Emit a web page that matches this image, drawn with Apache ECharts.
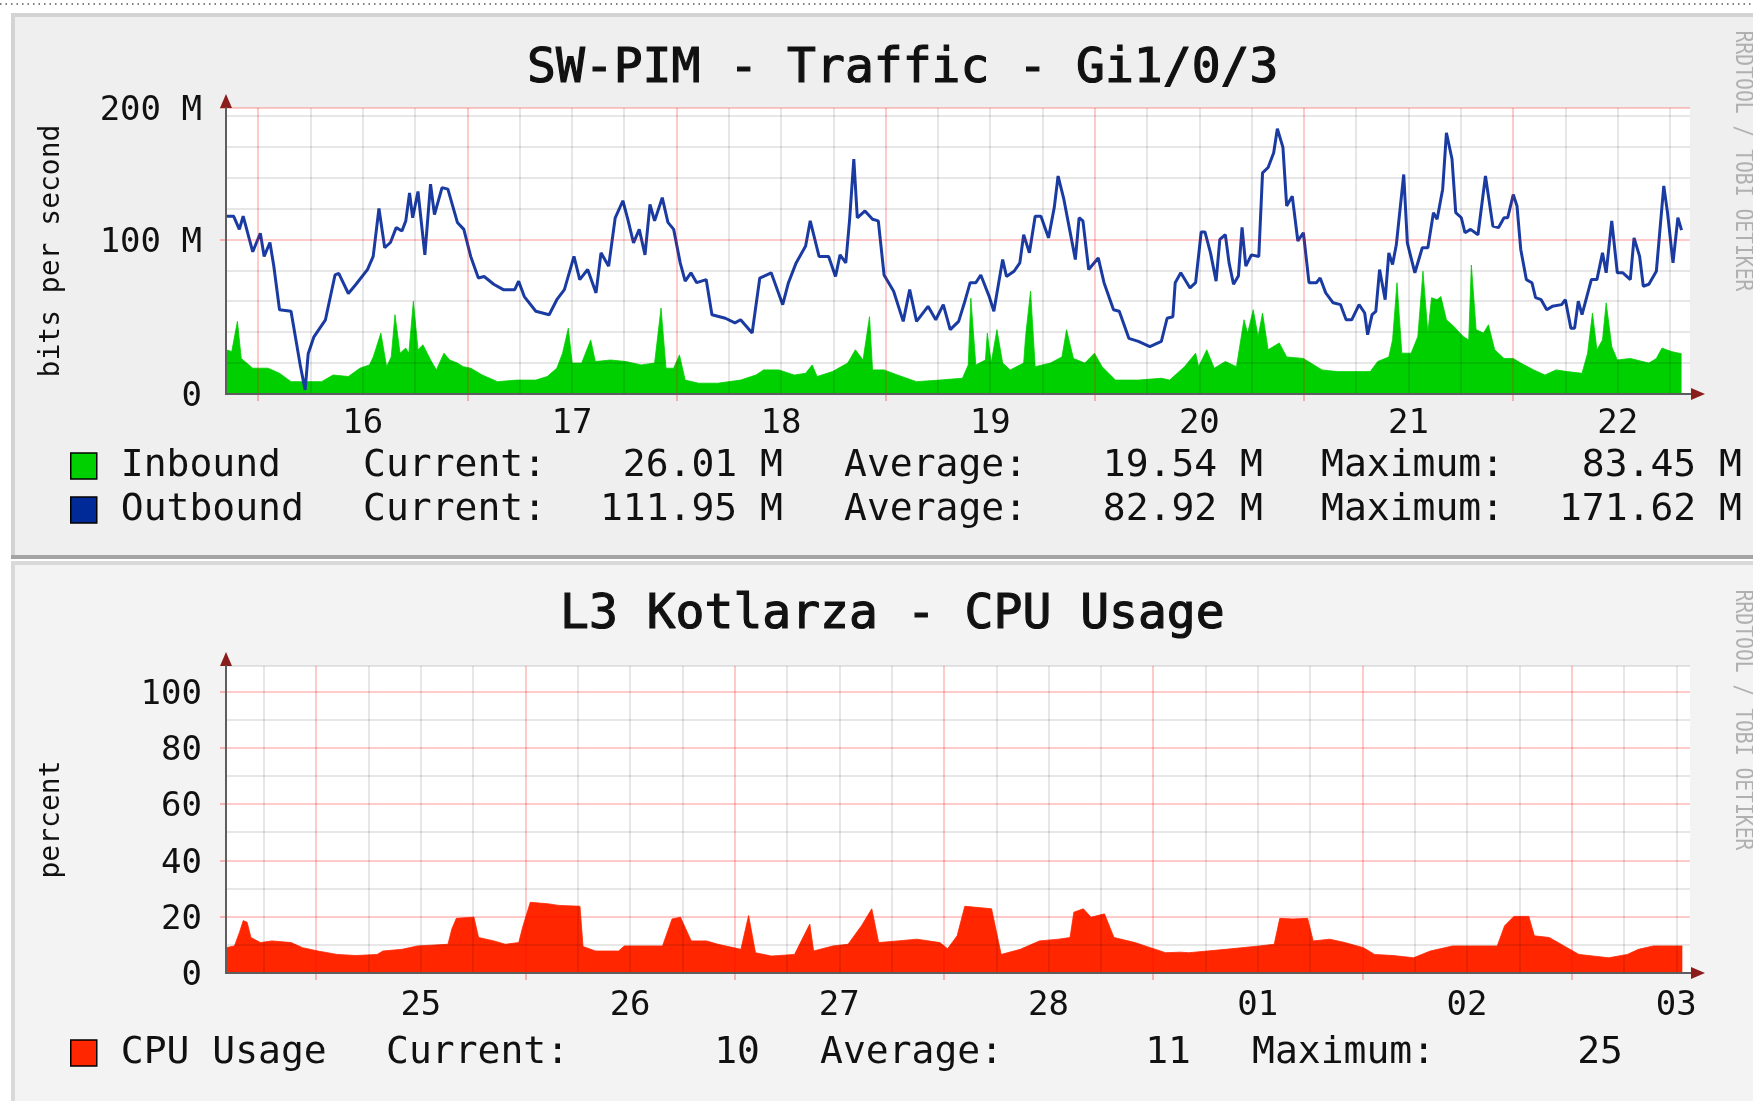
<!DOCTYPE html>
<html><head><meta charset="utf-8">
<script src="https://cdn.jsdelivr.net/npm/echarts@6/dist/echarts.min.js"></script>
<style>html,body{margin:0;padding:0;background:#fff;overflow:hidden}#c{width:1753px;height:1101px}</style>
</head><body><div id="c"></div><script>
// ---------- texts ----------
const trafficTitle = 'SW-PIM - Traffic - Gi1/0/3';
const cpuTitle = 'L3 Kotlarza - CPU Usage';
const watermark = 'RRDTOOL / TOBI OETIKER';
const statLabels = ['Current:', 'Average:', 'Maximum:'];
const inboundStats = ['26.01 M', '19.54 M', '83.45 M'];
const outboundStats = ['111.95 M', '82.92 M', '171.62 M'];
const cpuStats = ['10', '11', '25'];

// ---------- x axis (hours from first midnight shown) ----------
const trafficDayLabels = ['16', '17', '18', '19', '20', '21', '22'];
const trafficDayCenters = [12, 36, 60, 84, 108, 132, 156];
const trafficMidnights = [0, 24, 48, 72, 96, 120, 144];
const trafficXRange = [-3.69, 164.3];
const cpuDayLabels = ['25', '26', '27', '28', '01', '02', '03'];
const cpuDayCenters = [12, 36, 60, 84, 108, 132, 156];
const cpuMidnights = [0, 24, 48, 72, 96, 120, 144];
const cpuXRange = [-10.35, 157.57];

// ---------- y axis ----------
const trafficYMax = 185;
const trafficYLabelValues = [0, 100, 185];
const trafficYLabels = ['0', '100 M', '200 M'];
const trafficYMinor = [20, 40, 60, 80, 120, 140, 160, 180];
const trafficYMajor = [100, 185];
const cpuYMax = 109;
const cpuYLabelValues = [0, 20, 40, 60, 80, 100];
const cpuYLabels = ['0', '20', '40', '60', '80', '100'];
const cpuYMinor = [10, 30, 50, 70, 90, 109];
const cpuYMajor = [20, 40, 60, 80, 100];

// ---------- series: [hour, value] ----------
const outboundPoints = [[-3.69,115],[-2.82,115],[-2.16,106.5],[-1.72,115],[-0.62,92],[0.25,104],[0.69,89],[1.35,98],[1.79,83],[2.45,54.5],[3.77,53.5],[4.86,17.7],[5.39,2.6],[5.74,26],[6.4,37],[7.72,48],[8.82,77],[9.25,78],[10.35,65],[11.23,71],[12.54,80.5],[13.2,89],[13.86,120],[14.52,94.6],[15.18,98],[15.84,107.6],[16.5,105.4],[16.94,112],[17.37,130],[17.73,114],[18.34,131],[19.13,90],[19.78,135.7],[20.23,116],[21.1,133.5],[21.77,132.5],[22.86,111],[23.6,106.5],[24.39,89],[25.27,75],[25.93,76],[27.03,71],[28.13,67.5],[29.44,67.5],[29.89,73],[30.54,63],[31.86,53.5],[33.39,51.3],[34.27,61],[35.14,67.5],[36.24,89],
[36.9,74],[37.81,80.5],[38.77,65.4],[39.34,91.3],[40.22,82.7],[40.97,114],[41.85,125],[42.42,113],[43.07,97.8],[43.73,106.5],[44.39,90],[44.96,122.7],[45.49,112],[46.37,127],[47.02,111],[47.68,106.5],[48.43,84.8],[49.0,73],[49.66,78.4],[50.32,72],[51.41,74],[52.07,51.3],[53.61,49],[54.71,46],[55.36,48],[56.68,39.4],[57.56,75],[58.87,78.4],[60.19,57.8],[60.85,72],[61.73,84.8],[62.82,95.7],[63.35,112],[64.36,89],[65.46,89],[66.25,76],[66.77,90],[67.43,84.8],[67.87,113],[68.35,152],[68.75,114],[69.63,118.4],[70.5,113],[71.16,112],[71.82,77],[72.92,66.5],[74.02,47],[74.76,67.5],[75.55,47],[76.87,56.7],[77.75,48],[78.62,57.8],[79.41,41.6],[80.38,47],[81.04,59],[81.7,72],[82.35,72],[82.92,77],[83.89,63],[84.42,53.5],[85.43,87],[85.87,76],[86.74,79.4],[87.4,84.8],[87.84,103],[88.5,91.3],[89.16,115],[89.82,115],[90.69,101],[91.35,120.6],[91.79,141],[92.45,126],[93.11,106.5],[93.77,87],[94.2,114],[94.64,112],[95.3,80.5],[96.4,88],[97.06,72],[98.15,54.5],[98.81,53.5],[99.91,36],[101.0,34],[102.32,30.7],[103.64,34],[104.3,49],
[104.96,50],[105.23,72],[105.87,78.4],[106.93,68.6],[107.57,72],[108.21,104.8],[108.64,104.8],[109.28,91.3],[109.92,73],[110.35,100],[110.98,103],[111.41,84.8],[111.92,71],[112.48,76.4],[112.9,107.8],[113.33,82.7],[113.97,90],[114.82,89],[115.25,143],[115.89,146.5],[116.53,156],[116.95,171.6],[117.59,159.5],[118.02,121.6],[118.66,128],[119.3,99],[119.94,104.3],[120.58,72],[121.43,72],[121.86,75],[122.5,65.4],[123.35,59],[124.2,57.8],[124.84,48],[125.48,48],[126.33,57.8],[126.97,52.4],[127.31,38.3],[127.82,51.3],[128.25,53.5],[128.68,80.5],[129.32,61],[129.74,91.3],[130.17,83.8],[130.6,96.5],[131.45,142],[131.87,97.6],[132.73,78.4],[133.58,94.6],[134.22,94.6],[134.86,117.3],[135.28,113],[135.92,132.5],[136.35,169],[136.99,152],[137.42,117.3],[138.06,114],[138.48,104.3],[139.12,106.5],[139.97,103],[140.83,141],[141.68,108.6],[142.32,107.6],[142.96,114],[143.38,114],[144.02,129],[144.45,121.6],[144.88,93.5],[145.52,74],[146.16,72],[146.58,62.3],[147.22,61],[147.86,54.5],[148.5,56.7],[149.57,57.8],[150.0,61],[150.63,42.6],[151.06,42.6],[151.48,60],[151.91,51.3],[152.98,74],[153.62,74],[154.26,91.3],[154.68,78.4],[155.32,112],[155.96,78.4],[156.6,78.4],[157.45,74],[157.88,101],[158.52,89],[158.94,69.7],[159.58,71],[160.44,79.4],[161.29,134.6],[161.72,117.3],[162.35,84.8],[162.91,114],[163.33,106]];

const inboundPoints = [[-3.69,28.6],[-3.03,27.5],[-2.38,47],[-1.94,23],[-0.62,16.7],[1.14,16.7],[2.45,13.4],[3.77,8],[5.52,8],[7.28,8],[8.6,12.3],[10.35,11.3],[11.67,16.7],[12.77,18.8],[13.21,24],[14.08,39.4],[14.74,17.7],[15.27,24],[15.7,51.3],[16.28,26.4],[16.93,29.7],[17.29,26.4],[17.81,60],[18.34,28.6],[18.91,31.8],[19.79,22],[20.45,15.6],[21.32,26.4],[21.98,22],[22.86,20],[23.52,17.7],[24.4,16.7],[25.71,12.3],[27.47,8],[29.66,9],[31.86,9],[33.17,11.3],[34.27,16.7],[34.93,26.4],[35.59,42.6],[36.03,20],[37.12,20],
[38.16,35],[38.69,21],[40.44,22],[42.2,21],[43.95,18.8],[45.49,20],[46.23,55.6],[46.8,16.7],[47.68,16.7],[48.34,25.3],[49.0,9],[50.54,7],[52.73,7],[55.36,9],[57.12,12.3],[58.0,15.6],[59.75,15.6],[61.51,12.3],[62.82,13.4],[63.57,18.8],[64.14,11.3],[65.9,14.5],[67.65,20],[68.53,28.6],[69.41,22],[70.15,50],[70.5,15.6],[71.82,15.6],[73.36,12.3],[75.55,8],[78.19,9],[80.82,10.2],[81.48,18.8],[81.78,62],[82.35,18.8],[83.45,22],[83.67,39.4],[84.11,20],[84.77,41.6],[85.43,20],[86.3,15.6],[87.84,20],[88.06,37.2],[88.63,66.5],[89.16,17.7],[90.91,20],[92.23,24],[92.76,41.6],[93.55,23],[94.86,20],[95.96,26.4],[96.84,17.7],[98.37,9],[101.0,9],[103.64,10.2],
[104.59,9],[106.3,17.7],[107.57,26.4],[107.92,17.7],[108.85,28.6],[109.71,16.7],[110.98,21],[112.26,17.7],[113.12,48],[113.54,39.4],[114.18,54.5],[114.74,37.2],[115.25,52.4],[115.89,28.6],[117.17,33],[118.02,24],[119.94,23],[120.79,20],[122.07,15.6],[123.77,14.5],[125.91,14.5],[127.61,14.5],[128.46,21],[129.74,24],[130.17,35],[130.68,72],[131.23,26.4],[132.3,26.4],[133.07,37.2],[133.66,79.4],[134.22,39.4],[134.64,62.3],[135.28,61],[135.71,63],[136.35,48],[137.2,43.7],[138.27,37.2],[138.91,35],[139.21,83.4],[139.76,41.6],[140.61,39.4],[141.17,44.8],[141.89,28.6],[142.96,23],[144.02,23],[144.88,20],[146.37,15.6],[147.65,12.3],[148.93,15.6],[150.21,14.5],[151.91,13.4],[152.55,26.4],[153.11,52.4],[153.62,28.6],[154.26,35],[154.68,59],[155.32,30.7],[155.96,22],[157.45,23],[159.58,20],[160.44,23],[161.08,29.7],[162.14,27.5],[163.33,26]];

const cpuPoints = [[-10.35,9],[-9.38,9.6],[-8.81,14.4],[-8.37,18.6],[-7.93,18],[-7.49,12.6],[-6.4,10.8],[-5.08,11.4],[-2.88,10.8],[-1.57,9],[0.19,7.8],[2.38,6.6],[4.58,6.2],[6.99,6.6],[7.65,7.8],[9.84,8.4],[11.6,9.6],[15.11,10.2],[15.55,15.6],[16.07,19.4],[18.09,19.8],[18.62,12.6],[20.38,11.4],[21.69,10.2],[23.23,10.8],[23.67,16.2],[24.55,25.1],[26.52,24.6],[27.84,24],[30.25,23.7],
[30.6,9.4],[32.04,7.8],[34.67,7.8],[35.33,9.6],[37.3,9.6],[39.72,9.6],[40.81,19.2],[41.78,19.8],[43.01,11.4],[44.76,11.4],[46.08,10.2],[48.71,8.4],[49.59,20.4],[50.38,7.2],[52.22,6],[54.86,6.6],[56.61,17.4],[57.05,7.8],[59.25,9.6],[61.0,10.2],[62.54,16.8],[63.72,22.8],[64.51,10.8],[66.71,11.4],[68.9,12],[71.54,10.8],[72.41,8.6],[73.51,13.2],[74.39,23.7],[77.46,22.8],[78.56,6.6],[80.75,8.4],[82.95,11.4],[85.14,12],[86.46,12.6],[86.9,21.6],[87.99,22.8],[88.87,19.8],[90.41,21],[91.5,12.6],[93.92,10.8],[95.67,9],[97.43,7.2],[99.1,7.4],
[100.07,7.2],[102.2,7.8],[104.33,8.4],[108.17,9.6],[109.88,10.2],[110.52,19.4],[112.01,19.2],[113.71,19.4],[114.35,11.4],[116.27,12],[117.98,10.8],[120.11,9],[121.39,6.6],[123.52,6.2],[125.86,5.4],[127.78,7.8],[130.34,9.6],[135.46,9.6],[136.31,16.8],[137.37,20.1],[139.08,20.1],[139.72,13.2],[141.42,12.6],[143.13,9.6],[144.83,6.6],[148.24,5.4],[150.38,6.6],[151.66,8.4],[153.36,9.6],[156.69,9.6]];

// ---------- style ----------
const FONT = 'DejaVu Sans Mono';
const TXT = '#111';
const MINOR = 'rgba(0,0,0,0.13)';
const MAJOR = 'rgba(255,0,0,0.28)';
const AXIS = '#5e5e5e';
const ARROW = '#8b1c1c';
const GREEN = '#00CF00', BLUE = '#002A97', RED = '#FF2600';

function sixHourMinor(range) {
  const out = [];
  for (let h = Math.ceil(range[0] / 6) * 6; h <= range[1]; h += 6) if (h % 24 !== 0) out.push(h);
  return out;
}
function minorX(gridIndex, range, labelTicks, labels, margin) {
  return {type: 'value', gridIndex, min: range[0], max: range[1], position: 'bottom', z: 4,
    axisLine: {show: true, onZero: false, lineStyle: {color: AXIS, width: 2}},
    axisTick: {show: false, customValues: sixHourMinor(range)},
    splitLine: {show: true, lineStyle: {color: MINOR, width: 1.5}},
    axisLabel: {show: true, customValues: labelTicks, margin, fontFamily: FONT, fontSize: 34, color: TXT, lineHeight: 34,
      formatter: v => { const i = labelTicks.indexOf(v); return i >= 0 ? labels[i] : ''; }}};
}
function majorX(gridIndex, range, ticks) {
  return {type: 'value', gridIndex, min: range[0], max: range[1], position: 'bottom', z: 3,
    axisLine: {show: true, onZero: false, symbol: ['none', 'triangle'], symbolSize: [12, 14], symbolOffset: [0, 8],
      lineStyle: {color: ARROW, width: 2}},
    axisTick: {show: true, customValues: ticks, length: 7, lineStyle: {color: 'rgba(255,0,0,0.35)', width: 1.5}},
    splitLine: {show: true, lineStyle: {color: MAJOR, width: 1.5}},
    axisLabel: {show: false}};
}
function minorY(gridIndex, max, minor, labelTicks, labels, name) {
  return {type: 'value', gridIndex, min: 0, max, position: 'left', z: 4,
    name, nameLocation: 'middle', nameGap: 160, nameTextStyle: {fontFamily: FONT, fontSize: 28, color: TXT},
    axisLine: {show: true, onZero: false, lineStyle: {color: AXIS, width: 2}},
    axisTick: {show: false, customValues: minor},
    splitLine: {show: true, lineStyle: {color: MINOR, width: 1.5}},
    axisLabel: {show: true, customValues: labelTicks, margin: 24, fontFamily: FONT, fontSize: 34, color: TXT,
      verticalAlign: 'top', lineHeight: 7,
      formatter: v => { const i = labelTicks.indexOf(v); return i >= 0 ? labels[i] : ''; }}};
}
function majorY(gridIndex, max, major) {
  return {type: 'value', gridIndex, min: 0, max, position: 'left', z: 3,
    axisLine: {show: true, onZero: false, symbol: ['none', 'triangle'], symbolSize: [12, 14], symbolOffset: [0, 7],
      lineStyle: {color: ARROW, width: 2}},
    axisTick: {show: true, customValues: major, length: 6, lineStyle: {color: 'rgba(255,0,0,0.35)', width: 1.5}},
    splitLine: {show: true, lineStyle: {color: MAJOR, width: 1.5}},
    axisLabel: {show: false}};
}

function statTexts(y, lefts, rights, values) {
  const els = [];
  for (let i = 0; i < 3; i++) {
    els.push({type: 'text', z: 10, x: lefts[i], y, style: {text: statLabels[i], font: '38px "' + FONT + '"', fill: TXT,
      align: 'left', verticalAlign: 'middle', textAlign: 'left', textVerticalAlign: 'middle'}});
    els.push({type: 'text', z: 10, x: rights[i], y, style: {text: values[i], font: '38px "' + FONT + '"', fill: TXT,
      align: 'right', verticalAlign: 'middle', textAlign: 'right', textVerticalAlign: 'middle'}});
  }
  return els;
}

const graphics = [
  {type: 'line', z: -9, shape: {x1: 0, y1: 4, x2: 1753, y2: 4}, style: {stroke: '#555', lineWidth: 1.5, lineDash: [1.5, 4]}},
  {type: 'rect', z: -9, shape: {x: 11, y: 13, width: 1780, height: 546}, style: {fill: '#d3d3d3'}},
  {type: 'rect', z: -8, shape: {x: 15, y: 17, width: 1780, height: 538}, style: {fill: '#efefef'}},
  {type: 'rect', z: -8, shape: {x: 11, y: 555, width: 1780, height: 4}, style: {fill: '#a4a4a4'}},
  {type: 'rect', z: -9, shape: {x: 11, y: 561, width: 1780, height: 560}, style: {fill: '#d9d9d9'}},
  {type: 'rect', z: -8, shape: {x: 15, y: 565, width: 1780, height: 560}, style: {fill: '#f3f3f3'}},
  {type: 'text', z: 10, x: 1742, y: 161, rotation: -Math.PI / 2, scaleX: 0.82,
    style: {text: watermark, font: '24px "' + FONT + '"', fill: '#b0b0b0', align: 'center', verticalAlign: 'middle', textAlign: 'center', textVerticalAlign: 'middle'}},
  {type: 'text', z: 10, x: 1742, y: 720, rotation: -Math.PI / 2, scaleX: 0.82,
    style: {text: watermark, font: '24px "' + FONT + '"', fill: '#b0b0b0', align: 'center', verticalAlign: 'middle', textAlign: 'center', textVerticalAlign: 'middle'}}
].concat(
  statTexts(466, [363, 844, 1321], [783, 1263, 1742], inboundStats),
  statTexts(510, [363, 844, 1321], [783, 1263, 1742], outboundStats),
  statTexts(1053, [386, 820, 1252], [760, 1191, 1623], cpuStats)
);

const legendCommon = {orient: 'vertical', left: 70, itemWidth: 26, itemHeight: 26, itemGap: 4, icon: 'rect', padding: 0,
  selectedMode: false, itemStyle: {borderColor: '#000', borderWidth: 1.5},
  textStyle: {fontFamily: FONT, fontSize: 38, color: TXT, lineHeight: 40, padding: [0, 0, 0, 19]}};

const titleStyle = {fontFamily: FONT, fontSize: 48, fontWeight: 'normal', color: TXT, textBorderColor: TXT, textBorderWidth: 1.2};

const option = {
  animation: false,
  backgroundColor: '#fff',
  title: [
    {text: trafficTitle, left: 527, top: 46, padding: 0, textStyle: titleStyle},
    {text: cpuTitle, left: 560, top: 592, padding: 0, textStyle: titleStyle}
  ],
  legend: [
    Object.assign({}, legendCommon, {data: ['Inbound', 'Outbound'], top: 446}),
    Object.assign({}, legendCommon, {data: ['CPU Usage'], top: 1033})
  ],
  grid: [
    {left: 226, top: 108, width: 1464, height: 286, show: true, backgroundColor: '#fff', borderWidth: 0},
    {left: 226, top: 666, width: 1464, height: 307, show: true, backgroundColor: '#fff', borderWidth: 0}
  ],
  xAxis: [
    minorX(0, trafficXRange, trafficDayCenters, trafficDayLabels, 13),
    majorX(0, trafficXRange, trafficMidnights),
    minorX(1, cpuXRange, cpuDayCenters, cpuDayLabels, 16),
    majorX(1, cpuXRange, cpuMidnights)
  ],
  yAxis: [
    minorY(0, trafficYMax, trafficYMinor, trafficYLabelValues, trafficYLabels, 'bits per second'),
    majorY(0, trafficYMax, trafficYMajor),
    minorY(1, cpuYMax, cpuYMinor, cpuYLabelValues, cpuYLabels, 'percent'),
    majorY(1, cpuYMax, cpuYMajor)
  ],
  graphic: {elements: graphics},
  series: [
    {name: 'Inbound', type: 'line', xAxisIndex: 0, yAxisIndex: 0, data: inboundPoints, symbol: 'none', color: GREEN,
      lineStyle: {width: 0.8, color: GREEN}, areaStyle: {color: GREEN, opacity: 1}, z: 2},
    {name: 'Outbound', type: 'line', xAxisIndex: 0, yAxisIndex: 0, data: outboundPoints, symbol: 'none', color: BLUE,
      lineStyle: {width: 3, color: '#1a3ba2'}, z: 2},
    {name: 'CPU Usage', type: 'line', xAxisIndex: 2, yAxisIndex: 2, data: cpuPoints, symbol: 'none', color: RED,
      lineStyle: {width: 0.8, color: RED}, areaStyle: {color: RED, opacity: 1}, z: 2}
  ]
};
const chart = echarts.init(document.getElementById('c'));
chart.setOption(option);
</script></body></html>
